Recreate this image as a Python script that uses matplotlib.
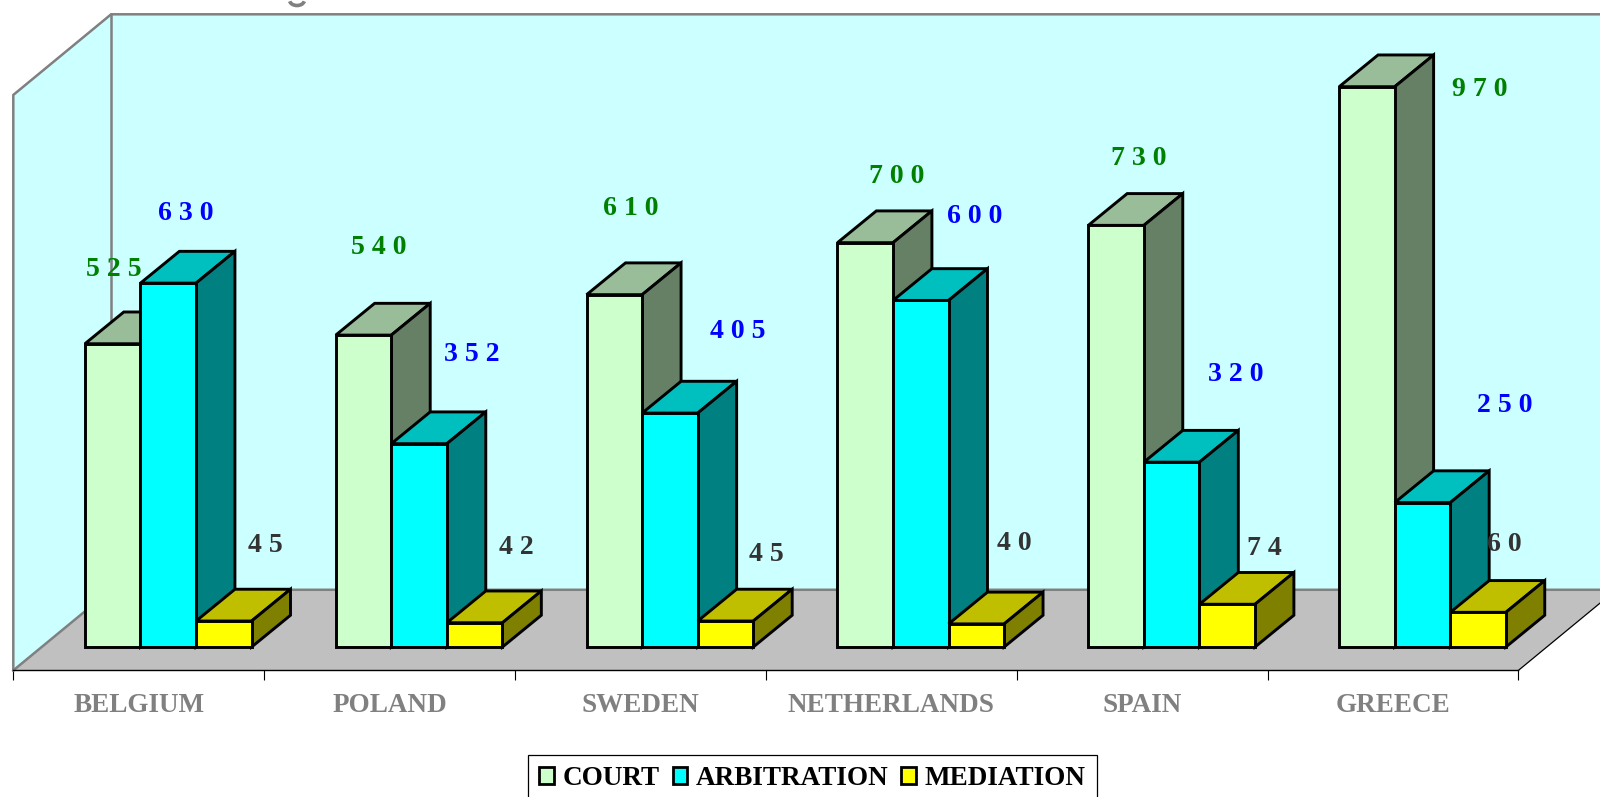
import matplotlib
matplotlib.use("Agg")
import matplotlib.pyplot as plt
from matplotlib.patches import Arc, Polygon, Patch
from matplotlib.transforms import IdentityTransform

countries = ["BELGIUM", "POLAND", "SWEDEN", "NETHERLANDS", "SPAIN", "GREECE"]
court = [525, 540, 610, 700, 730, 970]
arbitration = [630, 352, 405, 600, 320, 250]
mediation = [45, 42, 45, 40, 74, 60]
series_names = ["COURT", "ARBITRATION", "MEDIATION"]

# front, top, side
court_cols = ["#CCFFCC", "#99BD99", "#668066"]
arb_cols = ["#00FFFF", "#00BFBF", "#008080"]
med_cols = ["#FFFF00", "#BFBF00", "#808000"]
label_cols = ["#008000", "#0000FF", "#333333"]

# label offset from the bar's top left corner, in pixels of the shrunk picture
court_off = [(28, 73), (42, 86), (43, 84), (58, 65), (49, 66), (138, -3)]
arb_off = [(44, 68), (79, 87), (94, 80), (80, 82), (90, 86), (108, 95)]
med_off = [(68, 74), (68, 74), (67, 65), (64, 79), (64, 55), (53, 66)]

PX = 1600 / 1568
W, H = 1600, 797
floor_y = 670.4
top_y = 14.3
base_y = 647.0
px_per_unit = 0.5776

BAR_W = 0.2215
BAR_START = 0.2855
DEPTH_X = 0.155
DEPTH_Y = 55
WALL_X = 0.39
WALL_Y = 139.6

plt.rcParams["font.family"] = ["Liberation Serif", "DejaVu Serif"]
plt.rcParams["font.weight"] = "bold"

fig = plt.figure(figsize=(W / 100, H / 100), dpi=100, facecolor="white")
ax = fig.add_axes([13.3 / W, (H - floor_y) / H, (1518.4 - 13.3) / W, (floor_y - top_y) / H])
ax.patch.set_visible(False)
ax.set_xlim(0, 6)
y0 = -(floor_y - base_y) / px_per_unit
y1 = (base_y - top_y) / px_per_unit
ax.set_ylim(y0, y1)

for s in ["top", "left", "right"]:
    ax.spines[s].set_visible(False)
ax.spines["bottom"].set_linewidth(1.0)
ax.spines["bottom"].set_zorder(3)
ax.get_yaxis().set_visible(False)

ax.set_xticks(range(7))
ax.set_xticklabels([])
ax.tick_params(axis="x", which="major", length=7.5, width=0.8, color="black")
ax.set_xticks([i + 0.5 for i in range(6)], minor=True)
ax.set_xticklabels(countries, minor=True, color="#808080", fontsize=19.5, fontweight="bold")
ax.tick_params(axis="x", which="minor", length=0, pad=16.5)

# walls and floor
wall = "#CCFFFF"
grey = "#808080"
back_floor = y0 + WALL_Y
ax.add_patch(Polygon([(WALL_X, back_floor), (6 + WALL_X, back_floor), (6 + WALL_X, y1), (WALL_X, y1)],
                     closed=True, fc=wall, ec="none", clip_on=False, zorder=1))
ax.add_patch(Polygon([(0, y0), (WALL_X, back_floor), (WALL_X, y1), (0, y1 - WALL_Y)],
                     closed=True, fc=wall, ec="none", clip_on=False, zorder=1))
ax.add_patch(Polygon([(0, y0), (6, y0), (6 + WALL_X, back_floor), (WALL_X, back_floor)],
                     closed=True, fc="#C0C0C0", ec="none", clip_on=False, zorder=1))
ax.plot([0, 0, WALL_X, 6 + WALL_X], [y0, y1 - WALL_Y, y1, y1], color=grey, lw=1.8, clip_on=False, zorder=2)
ax.plot([WALL_X, WALL_X], [back_floor, y1], color=grey, lw=1.8, clip_on=False, zorder=2)
ax.plot([0, WALL_X, 6 + WALL_X], [y0, back_floor, back_floor], color=grey, lw=1.8, clip_on=False, zorder=2)
ax.plot([6, 6 + WALL_X], [y0, back_floor], color="black", lw=0.9, clip_on=False, zorder=2)

all_series = [court, arbitration, mediation]
all_cols = [court_cols, arb_cols, med_cols]
all_off = [court_off, arb_off, med_off]

z = 5
for i in range(6):
    for k in range(3):
        v = all_series[k][i]
        cols = all_cols[k]
        left = i + BAR_START + k * BAR_W
        right = left + BAR_W
        ax.add_patch(Polygon([(left, v), (right, v), (right + DEPTH_X, v + DEPTH_Y), (left + DEPTH_X, v + DEPTH_Y)],
                             closed=True, fc=cols[1], ec="black", lw=2.1, joinstyle="miter", clip_on=False, zorder=z))
        ax.add_patch(Polygon([(right, 0), (right + DEPTH_X, DEPTH_Y), (right + DEPTH_X, v + DEPTH_Y), (right, v)],
                             closed=True, fc=cols[2], ec="black", lw=2.1, joinstyle="miter", clip_on=False, zorder=z))
        ax.bar(left, v, BAR_W, align="edge", color=cols[0], edgecolor="black", linewidth=2.1,
               clip_on=False, zorder=z + 1)
        z += 2

for k in range(3):
    for i in range(6):
        v = all_series[k][i]
        left = i + BAR_START + k * BAR_W
        dx, dy = all_off[k][i]
        ax.annotate(" ".join(str(v)), (left, v), xytext=(dx * PX, dy * PX), textcoords="offset pixels",
                    ha="center", va="center", color=label_cols[k], fontsize=20, fontweight="bold",
                    annotation_clip=False, zorder=200)

handles = [Patch(fc=c[0], ec="black", lw=2.0) for c in all_cols]
leg = fig.legend(handles, series_names, ncol=3, loc="upper left", bbox_to_anchor=(528 / W, 1 - 755 / H),
                 frameon=True, fancybox=False, edgecolor="black", framealpha=1,
                 prop={"family": "Liberation Serif", "weight": "bold", "size": 19.5},
                 handlelength=0.55, handleheight=0.6, handletextpad=0.3, columnspacing=0.48,
                 borderaxespad=0, borderpad=0.42)
leg.get_frame().set_linewidth(0.9)

# the title is cropped off the reference, only a bit of one letter's tail shows
fig.add_artist(Arc((297, H), 15, 11, theta1=190, theta2=350, color=grey, lw=2.6, transform=IdentityTransform()))

fig.savefig("out.png", dpi=100)
